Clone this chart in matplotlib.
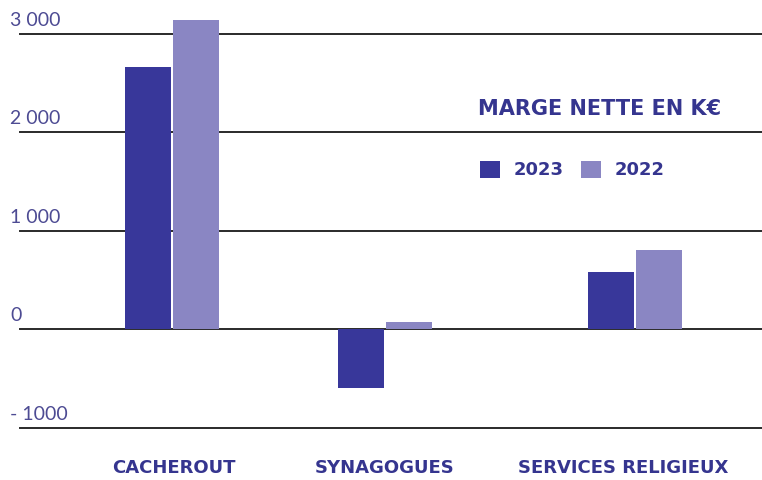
import matplotlib
matplotlib.use("Agg")
import matplotlib.pyplot as plt
import matplotlib.transforms as mtransforms

categories = ["CACHEROUT", "SYNAGOGUES", "SERVICES RELIGIEUX"]
series_names = ["2023", "2022"]
values_2023 = [2660, -600, 580]
values_2022 = [3140, 70, 800]
tick_values = [3000, 2000, 1000, 0, -1000]
tick_labels = ["3 000", "2 000", "1 000", "0", "- 1000"]
title = "MARGE NETTE EN K€"

# layout
positions = [0, 0.99, 2.153]
label_positions = [0.01, 0.99, 2.10]
bar_w = 0.214
off = 0.112
c_dark = "#38379a"
c_light = "#8a86c3"
txt_dark = "#35358f"
txt_tick = "#4d4b93"
bold_font = ["DejaVu Sans"]

plt.rcParams['font.family'] = ['Lato', 'DejaVu Sans']

fig = plt.figure(figsize=(7.62, 4.8), dpi=100)
ax = fig.add_axes([0, 0.099, 1, 0.882])
ax.set_xlim(-0.8, 2.744)
ax.set_ylim(-1050, 3250)
ax.axis("off")

for v in tick_values:
    ax.axhline(v, xmin=20 / 762, xmax=1, color="#2a2a2a", lw=1.4, zorder=1)

b1 = ax.bar([p - off for p in positions], values_2023, width=bar_w, color=c_dark,
            zorder=2, label=series_names[0])
b2 = ax.bar([p + off for p in positions], values_2022, width=bar_w, color=c_light,
            zorder=2, label=series_names[1])

trans_tick = mtransforms.blended_transform_factory(ax.transAxes, ax.transData)
for v, lab in zip(tick_values, tick_labels):
    ax.text(10 / 762, v, lab, transform=trans_tick + mtransforms.ScaledTranslation(0, 8 / 100, fig.dpi_scale_trans),
            ha="left", va="baseline", fontsize=14, color=txt_tick)

trans_cat = mtransforms.blended_transform_factory(ax.transData, fig.transFigure)
for p, c in zip(label_positions, categories):
    ax.text(p, 3 / 480, c, transform=trans_cat, ha="center", va="bottom",
            fontsize=13, fontweight="bold", color=txt_dark, family=bold_font)

fig.text(478 / 762, (480 - 115) / 480, title, ha="left", va="baseline",
         fontsize=15, fontweight="bold", color=txt_dark, family=bold_font)

leg = fig.legend(handles=[b1, b2], loc="center left",
                 bbox_to_anchor=(480 / 762, (480 - 170) / 480), ncol=2, frameon=False,
                 handlelength=1.1, handleheight=1.1, handletextpad=0.75,
                 columnspacing=1.0, borderaxespad=0, borderpad=0,
                 prop={"size": 13, "weight": "bold", "family": bold_font})
for t in leg.get_texts():
    t.set_color(txt_dark)

fig.savefig("out.png", dpi=100)
